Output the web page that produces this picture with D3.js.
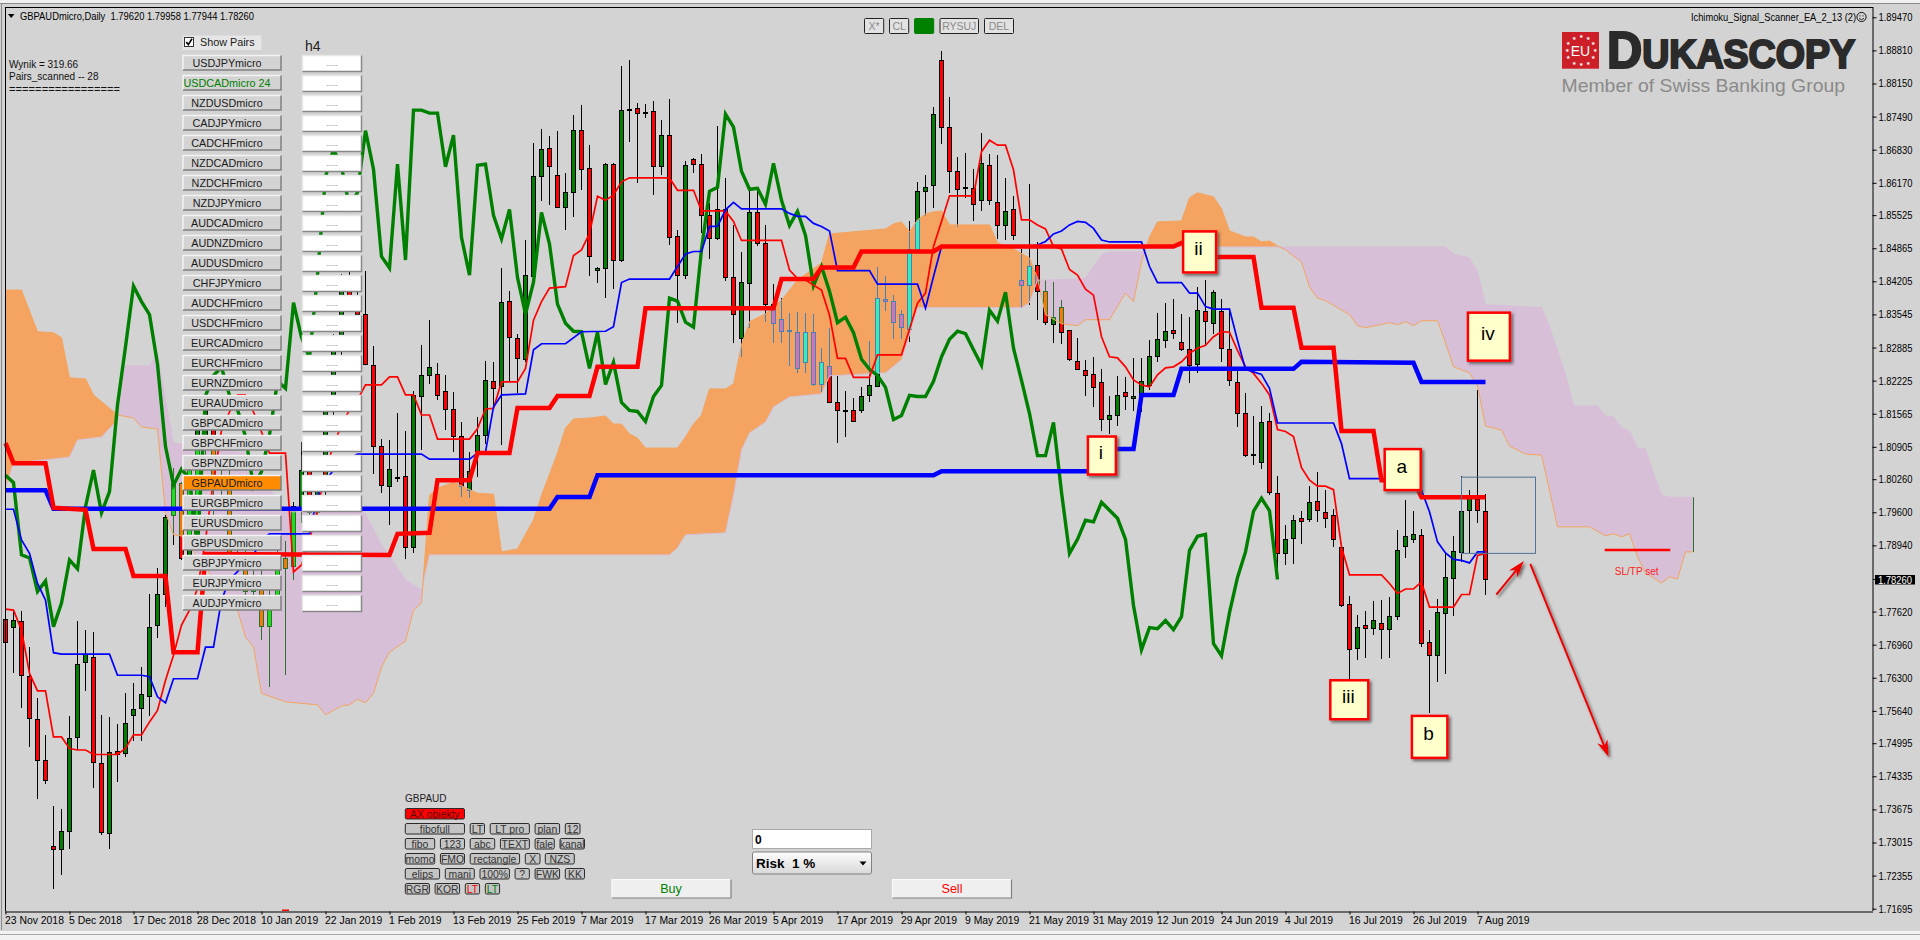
<!DOCTYPE html>
<html><head><meta charset="utf-8">
<script src="https://cdn.jsdelivr.net/npm/d3@7"></script>
<style>
html,body{margin:0;padding:0;background:#d3d3d3;overflow:hidden}
text{font-family:"Liberation Sans",Arial,sans-serif}
</style></head><body><svg id="c" width="1920" height="940"></svg>
<script>
const openP=[1.7746,1.7731,1.7742,1.7633,1.7547,1.7465,1.7294,1.7288,1.7324,1.7511,
1.7660,1.7671,1.7459,1.7319,1.7482,1.7479,1.7555,1.7569,1.7592,1.7734,
1.7797,1.7954,1.8018,1.7871,1.7921,1.8104,1.8128,1.8034,1.8019,1.7860,
1.7869,1.7802,1.7823,1.7732,1.7779,1.7867,1.7851,1.7965,1.8044,1.7959,
1.8001,1.8174,1.8290,1.8411,1.8380,1.8355,1.8253,1.8091,1.8011,1.8030,
1.8031,1.7889,1.8191,1.8233,1.8235,1.8201,1.8165,1.8111,1.8004,1.8081,
1.8114,1.8221,1.8210,1.8381,1.8306,1.8264,1.8430,1.8629,1.8686,1.8632,
1.8568,1.8598,1.8721,1.8645,1.8443,1.8447,1.8654,1.8462,1.8764,1.8766,
1.8758,1.8760,1.8649,1.8712,1.8510,1.8433,1.8664,1.8654,1.8552,1.8505,
1.8564,1.8428,1.8307,1.8417,1.8558,1.8495,1.8375,1.8345,1.8323,1.8319,
1.8259,1.8319,1.8215,1.8250,1.8179,1.8162,1.8163,1.8163,1.8192,1.8211,
1.8385,1.8380,1.8355,1.8325,1.8483,1.8600,1.8611,1.8860,1.8728,1.8640,
1.8608,1.8606,1.8582,1.8652,1.8578,1.8532,1.8564,1.8423,1.8413,1.8453,
1.8401,1.8335,1.8369,1.8323,1.8261,1.8243,1.8235,1.8219,1.8145,1.8153,
1.8199,1.8187,1.8191,1.8212,1.8271,1.8303,1.8323,1.8299,1.8285,1.8254,
1.8361,1.8337,1.8360,1.8285,1.8219,1.8157,1.8075,1.8060,1.8141,1.7998,
1.7878,1.7908,1.7948,1.7945,1.7982,1.7960,1.7954,1.7890,1.7776,1.7688,
1.7734,1.7729,1.7738,1.7726,1.7752,1.7892,1.7906,1.7913,1.7700,1.7674,
1.7758,1.7828,1.7879,1.7963,1.7985,1.7962];
const highP=[1.7777,1.7765,1.7764,1.7691,1.7589,1.7516,1.7375,1.7369,1.7554,1.7743,
1.7726,1.7722,1.7556,1.7551,1.7538,1.7599,1.7619,1.7651,1.7798,1.7848,
1.7955,1.8048,1.8021,1.8074,1.8154,1.8194,1.8154,1.8060,1.8045,1.7900,
1.7895,1.7850,1.7860,1.7810,1.7890,1.7902,1.7980,1.8101,1.8070,1.8020,
1.8188,1.8316,1.8435,1.8443,1.8415,1.8442,1.8292,1.8106,1.8104,1.8157,
1.8122,1.8201,1.8294,1.8344,1.8257,1.8234,1.8200,1.8140,1.8081,1.8149,
1.8262,1.8260,1.8447,1.8401,1.8315,1.8503,1.8696,1.8725,1.8711,1.8721,
1.8636,1.8752,1.8772,1.8693,1.8450,1.8656,1.8656,1.8850,1.8862,1.8776,
1.8774,1.8780,1.8742,1.8784,1.8523,1.8661,1.8666,1.8675,1.8576,1.8731,
1.8626,1.8533,1.8479,1.8603,1.8600,1.8533,1.8415,1.8387,1.8357,1.8359,
1.8357,1.8355,1.8287,1.8327,1.8232,1.8201,1.8187,1.8210,1.8302,1.8450,
1.8431,1.8393,1.8363,1.8540,1.8619,1.8633,1.8768,1.8880,1.8789,1.8669,
1.8677,1.8645,1.8716,1.8675,1.8673,1.8626,1.8591,1.8485,1.8614,1.8499,
1.8423,1.8419,1.8383,1.8324,1.8307,1.8264,1.8269,1.8246,1.8192,1.8232,
1.8230,1.8267,1.8267,1.8304,1.8357,1.8377,1.8385,1.8355,1.8349,1.8409,
1.8423,1.8403,1.8385,1.8367,1.8244,1.8197,1.8152,1.8172,1.8157,1.8032,
1.7934,1.7954,1.7963,1.8012,1.8040,1.8004,1.7966,1.7898,1.7793,1.7755,
1.7763,1.7783,1.7785,1.7791,1.7924,1.7984,1.7963,1.7926,1.7725,1.7788,
1.7878,1.7912,1.8032,1.8004,1.8204,1.79958];
const lowP=[1.7689,1.7640,1.7570,1.7492,1.7389,1.7418,1.7208,1.7236,1.7289,1.7486,
1.7604,1.7411,1.7317,1.7289,1.7423,1.7472,1.7504,1.7504,1.7554,1.7710,
1.7772,1.7895,1.7865,1.7855,1.7895,1.8074,1.7925,1.7990,1.7860,1.7840,
1.7785,1.7780,1.7705,1.7611,1.7765,1.7636,1.7825,1.7938,1.7940,1.7945,
1.7980,1.8148,1.8266,1.8365,1.8340,1.8254,1.8036,1.7998,1.7935,1.8021,
1.7867,1.7879,1.8084,1.8216,1.8184,1.8124,1.8081,1.7991,1.7989,1.8031,
1.8097,1.8169,1.8094,1.8220,1.8197,1.8260,1.8428,1.8580,1.8573,1.8566,
1.8522,1.8548,1.8603,1.8432,1.8418,1.8388,1.8406,1.8460,1.8699,1.8617,
1.8747,1.8592,1.8633,1.8493,1.8338,1.8425,1.8636,1.8516,1.8465,1.8503,
1.8422,1.8297,1.8269,1.8328,1.8490,1.8340,1.8297,1.8297,1.8252,1.8238,
1.8237,1.8212,1.8199,1.8177,1.8098,1.8111,1.8140,1.8157,1.8179,1.8209,
1.8362,1.8306,1.8306,1.8300,1.8481,1.8550,1.8566,1.8695,1.8596,1.8528,
1.8586,1.8541,1.8560,1.8573,1.8505,1.8503,1.8503,1.8367,1.8373,1.8344,
1.8334,1.8298,1.8296,1.8262,1.8244,1.8192,1.8169,1.8123,1.8116,1.8133,
1.8163,1.8161,1.8159,1.8204,1.8260,1.8288,1.8306,1.8282,1.8218,1.8237,
1.8294,1.8316,1.8260,1.8211,1.8131,1.8071,1.8054,1.8046,1.7994,1.7841,
1.7855,1.7857,1.7897,1.7941,1.7941,1.7929,1.7891,1.7772,1.7627,1.7665,
1.7670,1.7716,1.7667,1.7670,1.7745,1.7869,1.7899,1.7692,1.7560,1.7622,
1.7638,1.7754,1.7861,1.7878,1.7938,1.77944];
const closeP=[1.7700,1.7744,1.7635,1.7549,1.7466,1.7426,1.7288,1.7324,1.7508,1.7656,
1.7676,1.7461,1.7321,1.7480,1.7477,1.7539,1.7567,1.7596,1.7730,1.7796,
1.7949,1.8018,1.7868,1.8044,1.8134,1.8174,1.8034,1.8019,1.7875,1.7869,
1.7802,1.7823,1.7732,1.7779,1.7865,1.7847,1.7971,1.8044,1.7959,1.8001,
1.8174,1.8290,1.8411,1.8380,1.8354,1.8255,1.8091,1.8014,1.8046,1.8027,
1.7889,1.8192,1.8233,1.8249,1.8193,1.8165,1.8111,1.8011,1.8041,1.8114,
1.8222,1.8207,1.8378,1.8309,1.8267,1.8433,1.8629,1.8684,1.8649,1.8568,
1.8598,1.8721,1.8644,1.8470,1.8447,1.8654,1.8463,1.8762,1.8762,1.8756,
1.8756,1.8649,1.8712,1.8508,1.8433,1.8652,1.8654,1.8552,1.8505,1.8564,
1.8428,1.8355,1.8419,1.8558,1.8495,1.8375,1.8337,1.8321,1.8320,1.8247,
1.8319,1.8215,1.8259,1.8179,1.8163,1.8161,1.8141,1.8191,1.8213,1.8387,
1.8381,1.8339,1.8329,1.8484,1.8600,1.8608,1.8754,1.8728,1.8640,1.8604,
1.8606,1.8574,1.8656,1.8582,1.8532,1.8560,1.8512,1.8412,1.8450,1.8401,
1.8338,1.8349,1.8318,1.8265,1.8245,1.8233,1.8209,1.8145,1.8153,1.8193,
1.8191,1.8191,1.8221,1.8270,1.8305,1.8321,1.8316,1.8284,1.8253,1.8363,
1.8341,1.8399,1.8287,1.8223,1.8157,1.8073,1.8073,1.8139,1.8000,1.7878,
1.7906,1.7944,1.7941,1.7980,1.7964,1.7948,1.7906,1.7774,1.7686,1.7730,
1.7728,1.7744,1.7726,1.7752,1.7884,1.7912,1.7916,1.7698,1.7674,1.7760,
1.7830,1.7881,1.7962,1.7988,1.7963,1.7826];
const tenkan=[[0,1.7767],[1,1.7765],[2,1.7725],[3,1.7639],[4,1.7604],[5,1.7604],[6,1.7512],[7,1.7512],[8,1.7489],[9,1.7486],[10,1.7486],[11,1.7477],[14,1.7477],[15,1.7489],[16,1.7516],[17,1.7516],[18,1.7542],[19,1.7565],[20,1.7625],[21,1.7675],[22,1.7735],[23,1.7765],[24,1.7808],[25,1.7905],[26,1.8024],[27,1.8124],[28,1.8160],[29,1.8194],[30,1.8194],[31,1.8160],[32,1.8120],[33,1.8078],[35,1.8078],[36,1.7841],[37,1.7855],[38,1.7905],[39,1.7965],[40,1.8044],[41,1.8094],[42,1.8134],[43,1.8164],[44,1.8184],[45,1.8214],[47,1.8214],[48,1.8230],[49,1.8230],[50,1.8194],[51,1.8194],[52,1.8154],[53,1.8154],[54,1.8106],[58,1.8106],[59,1.8127],[60,1.8166],[61,1.8167],[62,1.8220],[64,1.8220],[65,1.8247],[66,1.8343],[67,1.8380],[68,1.8407],[70,1.8410],[71,1.8472],[72,1.8483],[73,1.8516],[74,1.8590],[75,1.8582],[76,1.8593],[77,1.8619],[78,1.8627],[83,1.8627],[84,1.8602],[86,1.8602],[87,1.8561],[90,1.8561],[91,1.8540],[92,1.8502],[97,1.8502],[98,1.8443],[99,1.8426],[100,1.8423],[101,1.8413],[102,1.8403],[103,1.8353],[104,1.8267],[105,1.8267],[106,1.8229],[108,1.8229],[109,1.8274],[112,1.8274],[113,1.8325],[114,1.8377],[115,1.8397],[116,1.8490],[117,1.8540],[118,1.8591],[121,1.8591],[122,1.8679],[123,1.8702],[124,1.8692],[125,1.8692],[126,1.8643],[127,1.8543],[128,1.8543],[129,1.8533],[130,1.8525],[131,1.8490],[132,1.8485],[133,1.8444],[134,1.8433],[135,1.8405],[136,1.8393],[137,1.8310],[138,1.8270],[139,1.8268],[140,1.8250],[141,1.8224],[142,1.8214],[143,1.8210],[144,1.8234],[145,1.8248],[146,1.8250],[147,1.8260],[148,1.8277],[149,1.8287],[150,1.8293],[151,1.8310],[152,1.8320],[153,1.8319],[154,1.8283],[155,1.8250],[156,1.8237],[157,1.8217],[158,1.8194],[159,1.8125],[160,1.8121],[161,1.8111],[162,1.8049],[163,1.8024],[164,1.8012],[165,1.8012],[166,1.8005],[167,1.7891],[168,1.7835],[172,1.7835],[173,1.7818],[174,1.7798],[175,1.7807],[176,1.7807],[177,1.7821],[178,1.7771],[181,1.7771],[182,1.7796],[183,1.7796],[184,1.7874],[185,1.7878]];
const kijun=[[0,1.7966],[1,1.7966],[2,1.7905],[3,1.7878],[4,1.7818],[5,1.7785],[6,1.7680],[7,1.7677],[13,1.7677],[14,1.7635],[17,1.7635],[18,1.7632],[19,1.7592],[20,1.7580],[21,1.7628],[24,1.7628],[25,1.7691],[26,1.7691],[27,1.7785],[28,1.7825],[31,1.7875],[32,1.7905],[33,1.7917],[38,1.7917],[39,1.7994],[40,1.8024],[41,1.8044],[42,1.8054],[43,1.8068],[44,1.8076],[52,1.8076],[53,1.8066],[58,1.8066],[59,1.8078],[60,1.8080],[61,1.8170],[62,1.8194],[65,1.8196],[66,1.8284],[67,1.8296],[70,1.8296],[72,1.8320],[75,1.8321],[76,1.8330],[77,1.8418],[78,1.8425],[83,1.8425],[84,1.8450],[85,1.8475],[86,1.8480],[87,1.8480],[88,1.8530],[89,1.8530],[90,1.8563],[91,1.8578],[92,1.8565],[97,1.8565],[98,1.8556],[99,1.8550],[100,1.8550],[101,1.8536],[102,1.8530],[103,1.8521],[104,1.8442],[108,1.8442],[109,1.8415],[114,1.8415],[115,1.8367],[116,1.8430],[117,1.8490],[128,1.8490],[129,1.8493],[130,1.8500],[131,1.8515],[132,1.8521],[133,1.8533],[134,1.8540],[135,1.8538],[136,1.8526],[137,1.8503],[138,1.8499],[142,1.8499],[143,1.8450],[144,1.8418],[147,1.8418],[148,1.8397],[149,1.8397],[150,1.8370],[151,1.8365],[153,1.8365],[154,1.8303],[155,1.8245],[156,1.8240],[157,1.8235],[158,1.8207],[159,1.8138],[166,1.8138],[167,1.8097],[168,1.8027],[176,1.8027],[177,1.8004],[178,1.7961],[179,1.7901],[180,1.7879],[181,1.7866],[182,1.7864],[183,1.7859],[184,1.7881],[185,1.7881]];
const thickRed=[[0,1.8098],[1,1.8058],[5,1.8058],[6,1.7969],[10,1.7965],[11,1.7887],[15,1.7887],[16,1.7833],[20,1.7833],[21,1.7681],[24,1.7681],[25,1.7877],[48,1.7875],[49,1.7917],[53,1.7919],[54,1.8024],[58,1.8024],[59,1.8078],[63,1.8078],[64,1.8168],[68,1.8168],[69,1.8192],[73,1.8192],[74,1.8250],[79,1.8250],[80,1.8367],[96,1.8367],[97,1.8425],[101,1.8425],[102,1.8448],[106,1.8448],[107,1.8480],[116,1.8480],[117,1.8490],[146,1.8490],[147,1.8497],[149,1.8503],[151,1.8469],[156,1.8469],[157,1.8368],[161,1.8368],[162,1.8288],[166,1.8288],[167,1.8122],[171,1.8122],[172,1.8024],[176,1.8024],[177,1.7990],[185,1.7990]];
const thickBlue=[[0,1.8004],[5,1.8004],[6,1.7967],[68,1.7967],[69,1.79905],[73,1.79905],[74,1.8034],[116,1.8034],[117,1.8042],[137,1.8042],[138,1.8086],[141,1.8086],[142,1.8194],[146,1.8194],[147,1.8246],[161,1.8246],[162,1.8260],[176,1.8258],[177,1.8220],[185,1.8220]];
const senkouA=[[0,1.8403],[2,1.8403],[4,1.8320],[6,1.8318],[7,1.8308],[8,1.8228],[10,1.8226],[11,1.8194],[14,1.8154],[16,1.8148],[17,1.8130],[19,1.8126],[20,1.7959],[21,1.7915],[22,1.7913],[29,1.7765],[30,1.7711],[31,1.7691],[32,1.7599],[35,1.7582],[39,1.7576],[40,1.7556],[42,1.7574],[43,1.7576],[44,1.7587],[45,1.7580],[46,1.7599],[47,1.7651],[48,1.7681],[50,1.7703],[51,1.7765],[52,1.7779],[53,1.7994],[54,1.8008],[56,1.8020],[59,1.7998],[61,1.7996],[62,1.7881],[64,1.7887],[66,1.7945],[67,1.7994],[69,1.8078],[70,1.8128],[71,1.8146],[73,1.8148],[75,1.8152],[76,1.8136],[77,1.8136],[78,1.8116],[79,1.8108],[80,1.8088],[84,1.8088],[85,1.8110],[86,1.8136],[87,1.8154],[88,1.8206],[90,1.8206],[91,1.8216],[92,1.8294],[93,1.8340],[95,1.8356],[97,1.8383],[99,1.8423],[102,1.8457],[103,1.8515],[110,1.8525],[111,1.8535],[112,1.8539],[113,1.8519],[114,1.8543],[115,1.8555],[116,1.8559],[117,1.8561],[118,1.8533],[123,1.8533],[124,1.8497],[126,1.8485],[128,1.8467],[129,1.8427],[130,1.8354],[132,1.8336],[134,1.8332],[135,1.8344],[138,1.8344],[140,1.8397],[141,1.8380],[142,1.8459],[143,1.8509],[144,1.8539],[147,1.8541],[148,1.8587],[149,1.8597],[151,1.8589],[152,1.8565],[153,1.8521],[155,1.8509],[156,1.8509],[157,1.8499],[158,1.8501],[159,1.8491],[160,1.8483],[161,1.8471],[162,1.8459],[163,1.8409],[164,1.8387],[165,1.8382],[168,1.8354],[169,1.8332],[170,1.8328],[173,1.8338],[174,1.8334],[175,1.8340],[176,1.8332],[177,1.8342],[179,1.8342],[180,1.8298],[181,1.8250],[183,1.8238],[184,1.8212],[185,1.8132],[187,1.8124],[188,1.8092],[190,1.8076],[192,1.8074],[193,1.8004],[194,1.7931],[198,1.7931],[200,1.7913],[201,1.7917],[202,1.7911],[203,1.7917],[204,1.7871],[205,1.7839],[207,1.7819],[208,1.7831],[209,1.7827],[210,1.7881],[211,1.7881]];
const senkouB=[[0,1.8010],[1,1.8058],[7,1.8068],[8,1.8070],[9,1.8104],[12,1.8110],[14,1.8144],[15,1.8252],[18,1.8252],[19,1.8278],[20,1.8184],[21,1.8098],[23,1.8094],[30,1.8078],[34,1.7985],[35,1.7961],[44,1.7961],[45,1.7957],[47,1.7895],[48,1.7873],[50,1.7825],[52,1.7805],[53,1.7875],[83,1.7875],[84,1.7889],[85,1.7915],[90,1.7919],[91,1.7994],[92,1.8084],[93,1.8118],[95,1.8140],[96,1.8170],[98,1.8190],[102,1.8196],[103,1.8232],[110,1.8238],[112,1.8264],[113,1.8314],[114,1.8368],[127,1.8368],[128,1.8378],[129,1.8423],[130,1.8423],[134,1.8425],[135,1.8427],[137,1.8473],[138,1.8479],[142,1.8479],[143,1.8493],[144,1.8489],[180,1.8489],[181,1.8475],[183,1.8467],[184,1.8439],[185,1.8374],[192,1.8368],[193,1.8330],[195,1.8234],[196,1.8172],[199,1.8172],[200,1.8152],[201,1.8150],[202,1.8128],[203,1.8122],[204,1.8088],[205,1.8086],[206,1.8038],[207,1.7994],[208,1.7990],[211,1.7990]];
const priceTicks=[1.8947,1.8881,1.8815,1.8749,1.8683,1.8617,1.85525,1.84865,1.84205,1.83545,1.82885,1.82225,1.81565,1.80905,1.8026,1.796,1.7894,1.7762,1.7696,1.763,1.7564,1.74995,1.74335,1.73675,1.73015,1.72355,1.71695];
const currentPrice=1.7826;
const dateLabels=["23 Nov 2018","5 Dec 2018","17 Dec 2018","28 Dec 2018","10 Jan 2019","22 Jan 2019","1 Feb 2019","13 Feb 2019","25 Feb 2019","7 Mar 2019","17 Mar 2019","26 Mar 2019","5 Apr 2019","17 Apr 2019","29 Apr 2019","9 May 2019","21 May 2019","31 May 2019","12 Jun 2019","24 Jun 2019","4 Jul 2019","16 Jul 2019","26 Jul 2019","7 Aug 2019"];
const pairNames=["USDJPYmicro","USDCADmicro 24","NZDUSDmicro","CADJPYmicro","CADCHFmicro","NZDCADmicro","NZDCHFmicro","NZDJPYmicro","AUDCADmicro","AUDNZDmicro","AUDUSDmicro","CHFJPYmicro","AUDCHFmicro","USDCHFmicro","EURCADmicro","EURCHFmicro","EURNZDmicro","EURAUDmicro","GBPCADmicro","GBPCHFmicro","GBPNZDmicro","GBPAUDmicro","EURGBPmicro","EURUSDmicro","GBPUSDmicro","GBPJPYmicro","EURJPYmicro","AUDJPYmicro"];
const waveLabels=[["i",135.3,1.8111,28,38],["ii",147.2,1.8520,33,41],["iv",182.8,1.8358,42,48],["a",172.4,1.8086,36,41],["iii",165.6,1.7625,38,39],["b",175.8,1.7554,35.5,42]];
const arrows=[[186.35,1.7796,189.8,1.7863],[190.6,1.7857,200.4,1.7472]];
const zone=[182,1.8030,191.25,1.7878];
const slLine=[199.9,208.1,1.78847];

const svg=d3.select("#c");
const x=d3.scaleLinear().domain([0,1]).range([5.5,13.5]);
const y=d3.scaleLinear().domain([1.8947,1.71695]).range([17.3,908.7]);
const N=openP.length;
const defs=svg.append("defs");
const sh=defs.append("filter").attr("id","shadow").attr("x","-30%").attr("y","-30%").attr("width","170%").attr("height","170%");
sh.append("feDropShadow").attr("dx",2).attr("dy",2).attr("stdDeviation",1.6).attr("flood-color","#444").attr("flood-opacity",.75);

svg.append("rect").attr("width",1920).attr("height",940).attr("fill","#d3d3d3");

function candles(g,pal){
  const idx=d3.range(N);
  g.selectAll("line").data(idx).join("line")
   .attr("x1",i=>x(i)).attr("x2",i=>x(i)).attr("y1",i=>y(highP[i])).attr("y2",i=>y(lowP[i]))
   .attr("stroke",pal.edge).attr("stroke-width",1).attr("shape-rendering","crispEdges");
  g.selectAll("rect").data(idx).join("rect")
   .attr("x",i=>x(i)-2).attr("width",4)
   .attr("y",i=>y(Math.max(openP[i],closeP[i])))
   .attr("height",i=>Math.max(1,Math.abs(y(openP[i])-y(closeP[i]))))
   .attr("fill",i=>closeP[i]>=openP[i]?pal.up:pal.down)
   .attr("stroke",pal.edge).attr("stroke-width",1).attr("shape-rendering","crispEdges");
}
candles(svg.append("g"),{up:"#008000",down:"#ff0000",edge:"#000"});

// Cloud
const aS=d3.scaleLinear().domain(senkouA.map(d=>d[0])).range(senkouA.map(d=>d[1]));
const bS=d3.scaleLinear().domain(senkouB.map(d=>d[0])).range(senkouB.map(d=>d[1]));
const runs=[];let cur=null;
for(let i=0;i<=211;i++){
  const up=aS(i)>=bS(i);
  if(!cur||cur.up!==up){
    if(cur){const d0=aS(i-1)-bS(i-1),d1=aS(i)-bS(i),t=i-1+d0/(d0-d1);cur.pts.push(t);runs.push(cur);cur={up,pts:[t]};}
    else cur={up,pts:[]};
  }
  cur.pts.push(i);
}
runs.push(cur);
const cloudArea=d3.area().x(d=>x(d)).y0(d=>y(aS(d))).y1(d=>y(bS(d)));
const cloudG=svg.append("g");
["up","dn"].forEach(k=>{
  const ds=runs.filter(r=>(k==="up")===r.up).map(r=>cloudArea(r.pts)).join("");
  cloudG.append("path").attr("d",ds).attr("fill",k==="up"?"#f4a460":"#d8bfd8");
  defs.append("clipPath").attr("id","clip-"+k).append("path").attr("d",ds);
});
candles(svg.append("g").attr("clip-path","url(#clip-up)"),{up:"#33eec0",down:"#cc77b8",edge:"#4682b4"});
candles(svg.append("g").attr("clip-path","url(#clip-dn)"),{up:"#1edc1e",down:"#f07a0a",edge:"#2e702e"});

const ln=d3.line().x(d=>x(d[0])).y(d=>y(d[1]));
function path(data,color,w){return svg.append("path").attr("d",ln(data)).attr("fill","none").attr("stroke",color).attr("stroke-width",w).attr("stroke-linejoin","miter");}
path(senkouB,"#d8bfd8",1);
path(senkouA,"#f4a460",1);
svg.append("line").attr("x1",x(211)).attr("x2",x(211)).attr("y1",y(1.7990)).attr("y2",y(1.7881)).attr("stroke","#2e702e").attr("stroke-width",1);
path(closeP.slice(26).map((v,j)=>[j,v]),"#008000",3.4);
path(tenkan,"#ff0000",1.7);
path(kijun,"#0000ff",1.7);
path(thickBlue,"#0000ff",4.5);
path(thickRed,"#ff0000",4.5);

// Zone, SL/TP
svg.append("rect").attr("x",x(zone[0])).attr("y",y(zone[1])).attr("width",x(zone[2])-x(zone[0])).attr("height",y(zone[3])-y(zone[1])).attr("fill","none").attr("stroke","#4f7397").attr("stroke-width",1);
svg.append("line").attr("x1",x(slLine[0])).attr("x2",x(slLine[1])).attr("y1",y(slLine[2])).attr("y2",y(slLine[2])).attr("stroke","#ff0000").attr("stroke-width",2.5);
svg.append("text").attr("x",x(203.9)).attr("y",575).attr("text-anchor","middle").attr("font-size",10).attr("fill","#ff2020").text("SL/TP set");

// Arrows
arrows.forEach(a=>{
  const X1=x(a[0]),Y1=y(a[1]),X2=x(a[2]),Y2=y(a[3]);
  const L=Math.hypot(X2-X1,Y2-Y1),ux=(X2-X1)/L,uy=(Y2-Y1)/L,h=17,w=5.5;
  const g=svg.append("g").attr("filter","url(#shadow)");
  g.append("line").attr("x1",X1).attr("y1",Y1).attr("x2",X2-ux*h*.6).attr("y2",Y2-uy*h*.6).attr("stroke","#ee0000").attr("stroke-width",2);
  g.append("polygon").attr("points",[[X2,Y2],[X2-ux*h-uy*w,Y2-uy*h+ux*w],[X2-ux*h*.7,Y2-uy*h*.7],[X2-ux*h+uy*w,Y2-uy*h-ux*w]].map(p=>p.join(",")).join(" ")).attr("fill","#ee0000");
});

// Wave label boxes
waveLabels.forEach(d=>{
  const g=svg.append("g").attr("transform",`translate(${x(d[1])},${y(d[2])})`);
  g.append("rect").attr("width",d[3]).attr("height",d[4]).attr("fill","#ffffcc").attr("stroke","#ff0000").attr("stroke-width",2.5).attr("filter","url(#shadow)");
  g.append("text").attr("x",d[3]/2-1).attr("y",d[4]*0.42).attr("dy",".36em").attr("text-anchor","middle").attr("font-size",19).attr("fill","#000").text(d[0]);
});

// Frame
svg.append("rect").attr("x",0).attr("y",0).attr("width",1920).attr("height",3).attr("fill","#f0f0f0");
svg.append("line").attr("x1",0).attr("x2",1920).attr("y1",3.5).attr("y2",3.5).attr("stroke","#8a8a8a");
svg.append("line").attr("x1",1.5).attr("x2",1.5).attr("y1",4).attr("y2",930).attr("stroke","#8a8a8a");
svg.append("rect").attr("x",0).attr("y",931).attr("width",1920).attr("height",9).attr("fill","#f2f2f2");
svg.append("line").attr("x1",0).attr("x2",1920).attr("y1",934.5).attr("y2",934.5).attr("stroke","#a8a8a8");
svg.append("line").attr("x1",5).attr("x2",1873).attr("y1",7.5).attr("y2",7.5).attr("stroke","#000");
svg.append("line").attr("x1",5.5).attr("x2",5.5).attr("y1",7).attr("y2",911).attr("stroke","#000");

// Axes
const axR=svg.append("g").attr("transform","translate(1872.5,0)").call(d3.axisRight(y).tickValues(priceTicks).tickSize(4).tickPadding(2).tickFormat(d3.format(".5f")));
axR.select(".domain").attr("d","M0.5,7V911");
axR.selectAll("text").attr("font-size",10.8).attr("fill","#000").attr("font-family","Liberation Sans").attr("textLength",34).attr("lengthAdjust","spacingAndGlyphs");
const axB=svg.append("g").attr("transform","translate(0,911.5)").call(d3.axisBottom(x).tickValues(dateLabels.map((_,k)=>k*8)).tickSize(3).tickPadding(2).tickFormat((d,k)=>dateLabels[k]));
axB.select(".domain").attr("d","M5,0.5H1873");
axB.selectAll("text").attr("text-anchor","start").attr("dx",-1).attr("y",3).attr("dy","0.9em").attr("font-size",10.4).attr("fill","#000").attr("font-family","Liberation Sans");
axB.selectAll(".tick line").attr("y1",0).attr("y2",3);
svg.append("rect").attr("x",1875).attr("y",575).attr("width",40).attr("height",9.5).attr("fill","#000");
svg.append("text").attr("x",1878).attr("y",583.5).attr("font-size",10.8).attr("fill","#fff").attr("textLength",34).attr("lengthAdjust","spacingAndGlyphs").text(d3.format(".5f")(currentPrice));
svg.append("line").attr("x1",1873).attr("x2",1877).attr("y1",y(currentPrice)).attr("y2",y(currentPrice)).attr("stroke","#000");
svg.append("rect").attr("x",282).attr("y",909.5).attr("width",7).attr("height",1.5).attr("fill","#ff0000");

// Header
function label(X,Y,t,size,col,opt={}){const e=svg.append("text").attr("x",X).attr("y",Y).attr("font-size",size).attr("fill",col||"#000").attr("text-anchor",opt.anchor||"start").attr("dominant-baseline","central").text(t);
  if(opt.len)e.attr("textLength",opt.len).attr("lengthAdjust","spacingAndGlyphs");if(opt.weight)e.attr("font-weight",opt.weight);if(opt.font)e.attr("font-family",opt.font);return e;}
svg.append("polygon").attr("points","8,14 14.5,14 11.2,18").attr("fill","#000");
label(20,16,"GBPAUDmicro,Daily  1.79620 1.79958 1.77944 1.78260",10.5,"#000",{len:234}).style("white-space","pre");
label(1691,16.5,"Ichimoku_Signal_Scanner_EA_2_13 (2)",10.5,"#000",{len:165});
svg.append("circle").attr("cx",1861.5).attr("cy",17).attr("r",4.6).attr("fill","none").attr("stroke","#000").attr("stroke-width",.9);
svg.append("circle").attr("cx",1860).attr("cy",15.8).attr("r",.6);
svg.append("circle").attr("cx",1863).attr("cy",15.8).attr("r",.6);
svg.append("path").attr("d","M1859,18.4Q1861.5,21 1864,18.4").attr("fill","none").attr("stroke","#000").attr("stroke-width",.8);
label(9,64.7,"Wynik = 319.66",10,"#111");
label(9,76.8,"Pairs_scanned -- 28",10,"#111");
label(9,89,"=================",10,"#111",{len:111});

// Buttons helper
function bevel(g,X,Y,W,H,fill,light,dark,bw=1.5){
  g.append("rect").attr("x",X).attr("y",Y).attr("width",W).attr("height",H).attr("fill",fill);
  g.append("path").attr("d",`M${X},${Y+H}V${Y}H${X+W}`).attr("fill","none").attr("stroke",light).attr("stroke-width",bw);
  g.append("path").attr("d",`M${X+W},${Y}V${Y+H}H${X}`).attr("fill","none").attr("stroke",dark).attr("stroke-width",bw);
}
const pg=svg.append("g");
pairNames.forEach((n,k)=>{
  const Y=55.5+k*20;
  bevel(pg,183,Y,98,14.5,n==="GBPAUDmicro"?"#ff8c00":"#d3d3d3","#f4f4f4","#808080",1.5);
  pg.append("text").attr("x",227).attr("y",Y+7.5).attr("text-anchor","middle").attr("dominant-baseline","central").attr("font-size",10.8).attr("fill",n==="USDCADmicro 24"?"#008000":"#1a1a1a").text(n);
  bevel(pg,302.5,Y,59,16,"#ffffff","#e8e8e8","#888888",1.5);
  pg.append("text").attr("x",332).attr("y",Y+8.5).attr("text-anchor","middle").attr("dominant-baseline","central").attr("font-size",7).attr("fill","#999").text("-----");
});
svg.append("rect").attr("x",182.5).attr("y",35.5).attr("width",79).attr("height",14.5).attr("fill","#e6e6e6");
svg.append("rect").attr("x",184.5).attr("y",37.5).attr("width",9).attr("height",9).attr("fill","#fff").attr("stroke","#333");
svg.append("path").attr("d","M186.2,42 L188.3,44.6 L192,38.8").attr("fill","none").attr("stroke","#000").attr("stroke-width",1.6);
label(200,42,"Show Pairs",10.8,"#1a1a1a");
label(305,46,"h4",14,"#222");

// Top middle buttons
[["X*",864.5,19.2],["CL",889.5,19.2],["",914.5,19.2],["RYSUJ",940,38.5],["DEL",984.5,29]].forEach(d=>{
  svg.append("rect").attr("x",d[1]).attr("y",18.5).attr("width",d[2]).attr("height",15).attr("rx",1).attr("fill",d[0]?"#e2e2e2":"#008000").attr("stroke",d[0]?"#222":"#008000");
  if(d[0])label(d[1]+d[2]/2,26,d[0],10.5,"#8a8a8a",{anchor:"middle"});
});

// Object panel
label(405,798,"GBPAUD",10,"#222");
[[[ "AX obiekty",993,1138,"#ff0000","#5a0000"]],
 [["fibofull",993,1138],["LT",1152,1187],["LT pro",1201,1297],["plan",1311,1371],["12",1385,1421]],
 [["fibo",993,1065],["123",1079,1138],["abc",1152,1212],["TEXT",1226,1297],["fale",1311,1358],["kanal",1372,1432]],
 [["momo",993,1065],["FMO",1079,1138],["rectangle",1152,1273],["X",1287,1323],["NZS",1336,1407]],
 [["elips",993,1077],["mani",1091,1162],["100%",1176,1248],["?",1262,1297],["FWK",1311,1371],["KK",1385,1432]],
 [["RGR",993,1052],["KOR",1066,1126],["LT",1140,1175,"#c4c4c4","#ff0000"],["LT",1189,1224,"#c4c4c4","#008000"]]
].forEach((row,r)=>{
  const Y=808.5+r*15;
  row.forEach(b=>{
    const X0=b[1]/2.45,W=(b[2]-b[1])/2.45;
    svg.append("rect").attr("x",X0).attr("y",Y).attr("width",W).attr("height",10.5).attr("rx",1.5).attr("fill",b[3]||"#c4c4c4").attr("stroke","#2a2a2a").attr("stroke-width",1);
    label(X0+W/2,Y+5.5,b[0],10.4,b[4]||"#333",{anchor:"middle"});
  });
});

// Trade panel
svg.append("rect").attr("x",752.5).attr("y",829.5).attr("width",119).attr("height",19).attr("fill","#fff").attr("stroke","#aaa");
label(755,839.5,"0",12,"#000",{weight:"bold"});
const gr=defs.append("linearGradient").attr("id","dd").attr("x1",0).attr("x2",0).attr("y1",0).attr("y2",1);
gr.append("stop").attr("offset",0).attr("stop-color","#fdfdfd");gr.append("stop").attr("offset",1).attr("stop-color","#d8d8d8");
svg.append("rect").attr("x",752.5).attr("y",852).attr("width",119).attr("height",22).attr("rx",2).attr("fill","url(#dd)").attr("stroke","#808080");
label(756,863.5,"Risk  1 %",13.5,"#000",{weight:"bold"}).style("white-space","pre");
svg.append("polygon").attr("points","859.5,861.5 866.5,861.5 863,865.5").attr("fill","#000");
bevel(svg,612,879.5,119,18.5,"#efefef","#fafafa","#808080",1.2);
label(671,888.8,"Buy",12.5,"#008000",{anchor:"middle"});
bevel(svg,892.5,879.5,119,18.5,"#efefef","#fafafa","#808080",1.2);
label(952,888.8,"Sell",12.5,"#ff0000",{anchor:"middle"});

// Logo
const lg=svg.append("g");
lg.append("rect").attr("x",1562).attr("y",32).attr("width",37).attr("height",36.7).attr("fill","#cc1f27");
d3.range(12).forEach(k=>{const a=k/12*2*Math.PI;lg.append("text").attr("x",1580.5+14*Math.cos(a)).attr("y",50.4+14*Math.sin(a)).attr("text-anchor","middle").attr("dominant-baseline","central").attr("font-size",5).attr("fill","#fff").text("★");});
lg.append("text").attr("x",1580.5).attr("y",51).attr("text-anchor","middle").attr("dominant-baseline","central").attr("font-size",14).attr("fill","#fff").text("EU");
const dk=lg.append("text").attr("x",1607).attr("y",68).attr("font-weight","bold").attr("fill","#2b2b2b").attr("stroke","#2b2b2b").attr("stroke-width",2.2).attr("textLength",248).attr("lengthAdjust","spacingAndGlyphs");
dk.append("tspan").attr("font-size",52).text("D");dk.append("tspan").attr("font-size",40).text("UKASCOPY");
lg.append("text").attr("x",1561.5).attr("y",85.5).attr("dominant-baseline","central").attr("font-size",19).attr("fill","#8a8a8a").attr("textLength",283.5).attr("lengthAdjust","spacingAndGlyphs").text("Member of Swiss Banking Group");
</script></body></html>
